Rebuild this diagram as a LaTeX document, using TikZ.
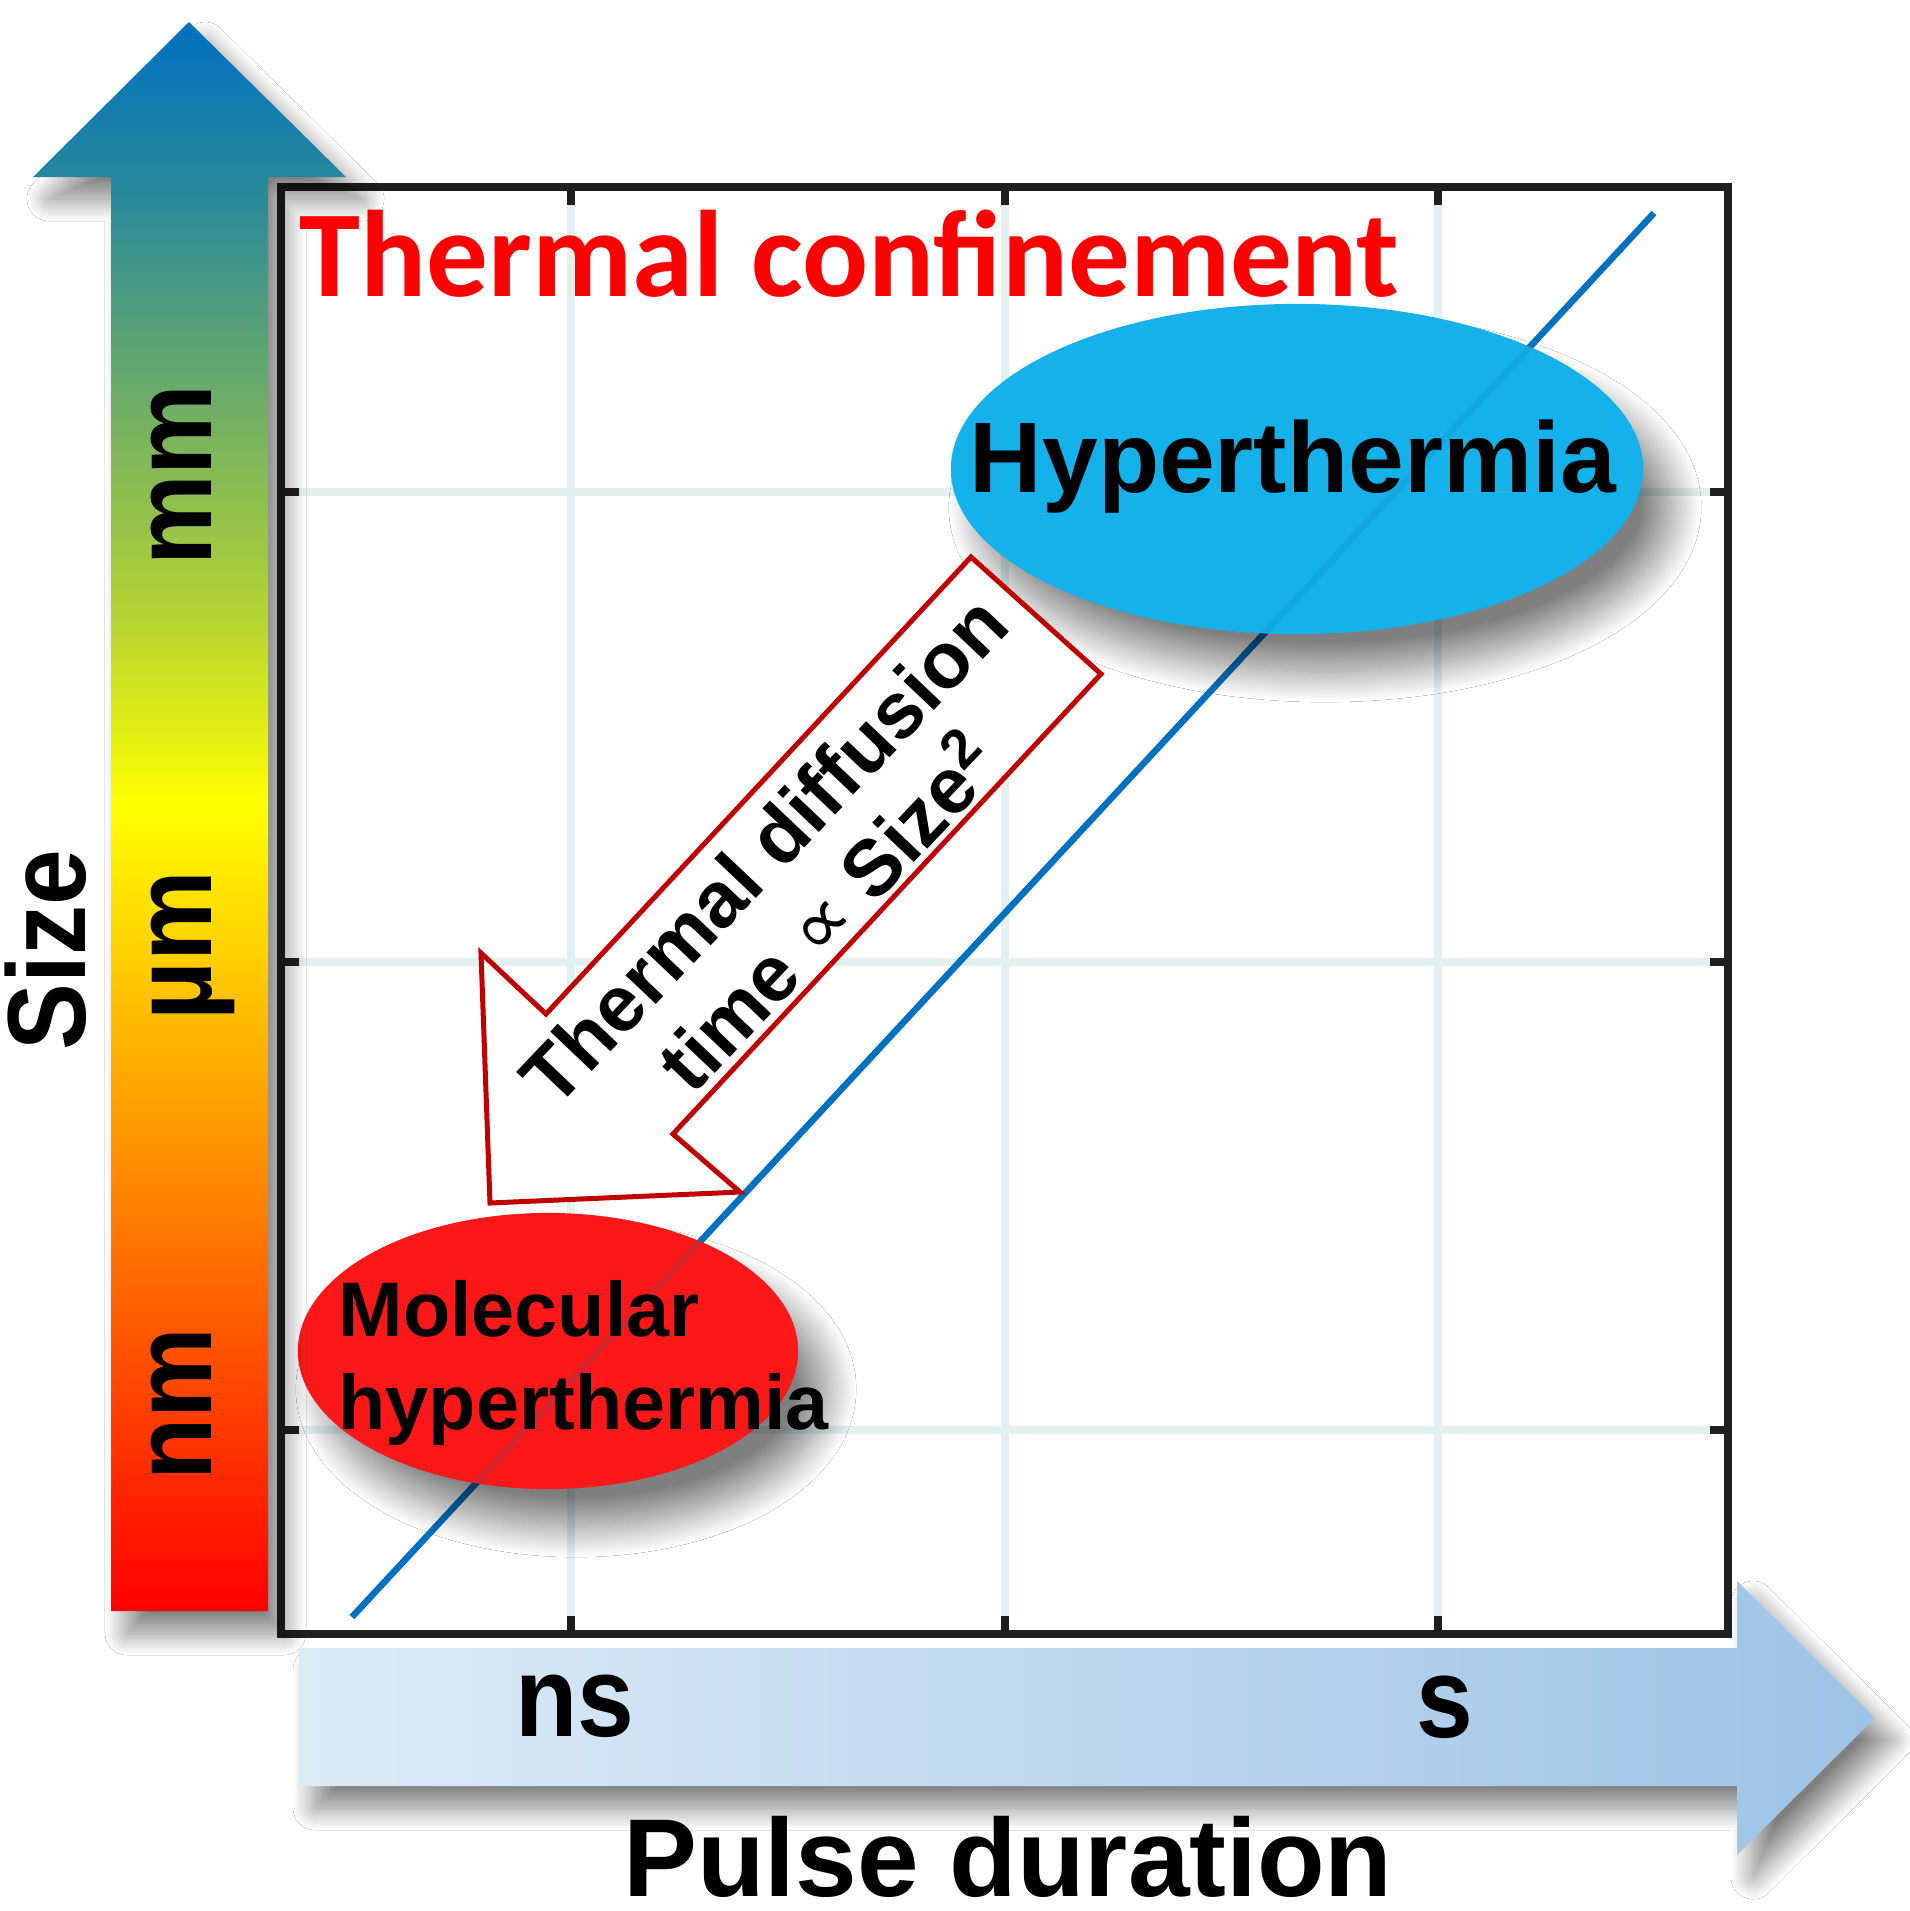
\documentclass[tikz,border=0pt]{standalone}
\usepackage{fontspec}
\setmainfont{Liberation Sans}
\newfontfamily\confinefont{Carlito}
\newfontfamily\propfont{DejaVu Sans}
\usetikzlibrary{shapes.geometric,shadows.blur}

\definecolor{framegray}{HTML}{1F1F1F}
\definecolor{gridcyan}{HTML}{E2F0F0}
\definecolor{lineblue}{HTML}{0070C0}
\definecolor{hyperblue}{HTML}{14B1EA}
\definecolor{molred}{HTML}{FA1818}
\definecolor{arrowred}{HTML}{C00000}
\definecolor{titlered}{HTML}{FF0000}
\definecolor{sizered}{HTML}{FF0000}
\definecolor{sizeyellow}{HTML}{FFFF00}
\definecolor{sizelime}{HTML}{B5D433}
\definecolor{sizegreen}{HTML}{66A96C}
\definecolor{sizeteal}{HTML}{2A8A9A}
\definecolor{sizeblue}{HTML}{0070C0}
\definecolor{pulseleft}{HTML}{DDEBF7}
\definecolor{pulseright}{HTML}{9DC3E6}

% colour ramps of the two axis arrows
\pgfdeclareverticalshading{sizegrad}{100bp}{color(0bp)=(sizered); color(25bp)=(sizered);
  color(50.4bp)=(sizeyellow); color(56.3bp)=(sizelime); color(63.8bp)=(sizegreen);
  color(69.5bp)=(sizeteal); color(75bp)=(sizeblue); color(100bp)=(sizeblue)}
\pgfdeclarehorizontalshading{pulsegrad}{100bp}{color(0bp)=(pulseleft); color(25bp)=(pulseleft);
  color(75bp)=(pulseright); color(100bp)=(pulseright)}

\begin{document}
\begin{tikzpicture}[x=0.01cm, y=-0.01cm,
  plotframe/.style={draw=framegray, line width=0.08cm},
  gridline/.style={draw=gridcyan, line width=0.08cm},
  tickmark/.style={draw=framegray, line width=0.08cm},
  diagline/.style={draw=lineblue, line width=0.065cm},
  bubble/.style={ellipse, inner sep=0pt,
    blur shadow={shadow xshift=0.28cm, shadow yshift=-0.38cm, shadow blur radius=0.3cm,
      shadow blur steps=40, shadow opacity=50}},
  bubbletext/.style={inner sep=0pt, font=\bfseries\fontsize{28.5pt}{34pt}\selectfont},
  diffarrow/.style={draw=arrowred, line width=0.05cm, fill=white, line join=miter},
  unitlabel/.style={inner sep=0pt, font=\bfseries\fontsize{29pt}{34pt}\selectfont},
  axisshadow/.style={blur shadow={shadow xshift=0.16cm, shadow yshift=-0.22cm, shadow blur radius=0.22cm,
      shadow blur steps=40, shadow opacity=50}}
]
  \useasboundingbox[fill=white] (0,0) rectangle (1910,1911);

  % plot area with grid and ticks
  \fill[white] (281,187) rectangle (1728,1634);
  \foreach \gx in {571,1005,1438} {
    \draw[gridline] (\gx,205) -- (\gx,1616);
    \draw[tickmark] (\gx,187) -- (\gx,205);
    \draw[tickmark] (\gx,1634) -- (\gx,1616);
  }
  \foreach \gy in {492,962,1430} {
    \draw[gridline] (299,\gy) -- (1710,\gy);
    \draw[tickmark] (281,\gy) -- (299,\gy);
    \draw[tickmark] (1728,\gy) -- (1710,\gy);
  }
  \draw[plotframe] (281,187) rectangle (1728,1634);

  % diffusion line
  \coordinate (lo) at (352,1617);
  \coordinate (hi) at (1654,213);
  \draw[diagline] (lo) -- (hi);

  % the two regimes
  \node[bubble, fill=hyperblue, minimum width=6.92cm, minimum height=3.30cm] (hyperoval) at (1297,469) {};
  \node[bubble, fill=molred, minimum width=5.00cm, minimum height=2.76cm] (moloval) at (548,1351) {};
  \begin{scope}
    \clip (1297,469) ellipse [x radius=346, y radius=165];
    \draw[diagline, draw opacity=0.15] (lo) -- (hi);
  \end{scope}
  \begin{scope}
    \clip (548,1351) ellipse [x radius=250, y radius=138];
    \draw[diagline, draw opacity=0.15] (lo) -- (hi);
  \end{scope}

  % hollow arrow towards small sizes
  \draw[diffarrow] (971,557) -- (546,1014) -- (481,953) -- (490,1203)
    -- (740,1192) -- (673,1134) -- (1101,674) -- cycle;
  \node[rotate=46.5, align=center, inner sep=0pt,
    font=\bfseries\fontsize{22.5pt}{25.6pt}\selectfont] (difftext) at (796,881)
    {Thermal diffusion\\time {\propfont\mdseries ∝} Size\textsuperscript{2}};

  % labels
  \node[anchor=base west, inner sep=0pt, text=titlered,
    font=\confinefont\bfseries\fontsize{35pt}{40pt}\selectfont] (title) at (299,296) {Thermal confinement};
  \node[bubbletext, anchor=base] (hypertext) at (1293,492) {Hyperthermia};
  \node[anchor=west, align=left, inner sep=0pt,
    font=\bfseries\fontsize{22pt}{26.5pt}\selectfont] (moltext) at (338,1363) {Molecular\\hyperthermia};

  % size axis arrow
  \shade[shading=sizegrad, axisshadow] (111,1611) -- (111,177) -- (33,177) -- (189,22)
    -- (346,177) -- (268,177) -- (268,1611) -- cycle;
  \node[unitlabel, rotate=90, anchor=base] (mm) at (212,475) {\scalebox{1}[1.1]{mm}};
  \node[unitlabel, rotate=90, anchor=base] (um) at (212,946) {\scalebox{1}[1.1]{µm}};
  \node[unitlabel, rotate=90, anchor=base] (nm) at (212,1404) {\scalebox{1}[1.1]{nm}};
  \node[inner sep=0pt, rotate=90, anchor=base,
    font=\bfseries\fontsize{28.5pt}{34pt}\selectfont] (size) at (85,950) {\scalebox{1}[1.11]{Size}};

  % pulse duration axis arrow
  \shade[shading=pulsegrad, axisshadow] (299,1648) -- (1737,1648) -- (1737,1581) -- (1875,1718)
    -- (1737,1855) -- (1737,1786) -- (299,1786) -- cycle;
  \node[unitlabel, anchor=base] (ns) at (575,1736) {\scalebox{1}[1.12]{ns}};
  \node[unitlabel, anchor=base] (sec) at (1445,1737) {\scalebox{1}[1.12]{s}};
  \node[inner sep=0pt, anchor=base,
    font=\bfseries\fontsize{31.5pt}{36pt}\selectfont] (pulse) at (1008,1896) {Pulse duration};
\end{tikzpicture}
\end{document}
